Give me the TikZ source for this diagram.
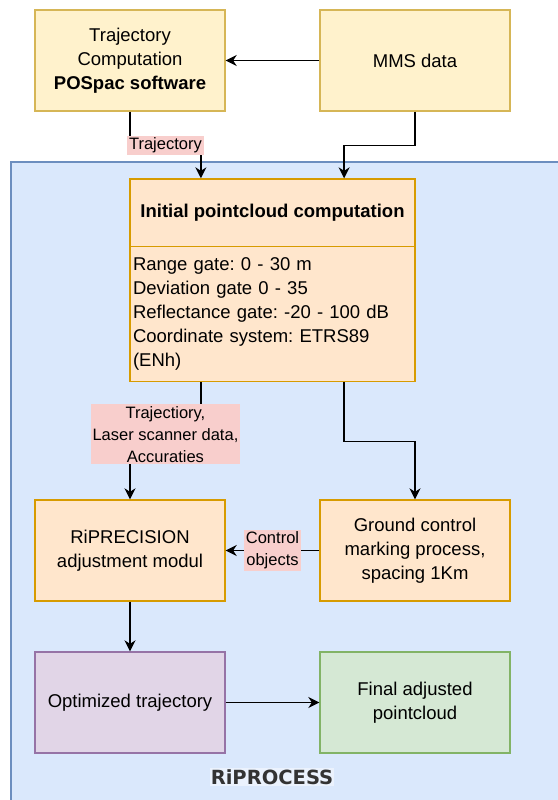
\documentclass[tikz,border=0pt]{standalone}
\usepackage{fontspec}
\setmainfont{Liberation Sans}
\newfontfamily\procfont{DejaVu Sans}
\usepackage{xcolor}
\usetikzlibrary{arrows, arrows.meta, positioning, calc}
\frenchspacing

\definecolor{lanefill}{HTML}{DAE8FC}
\definecolor{laneline}{HTML}{6C8EBF}
\definecolor{yellowfill}{HTML}{FFF2CC}
\definecolor{yellowline}{HTML}{D6B656}
\definecolor{orangefill}{HTML}{FFE6CC}
\definecolor{orangeline}{HTML}{D79B00}
\definecolor{purplefill}{HTML}{E1D5E7}
\definecolor{purpleline}{HTML}{9673A6}
\definecolor{greenfill}{HTML}{D5E8D4}
\definecolor{greenline}{HTML}{82B366}
\definecolor{tagfill}{HTML}{F8CECC}
\definecolor{procgray}{HTML}{333333}

\begin{document}
\begin{tikzpicture}[x=1pt,y=-1pt,node distance=285pt,on grid,line width=1.4pt,
    >={Stealth[length=11pt,width=11pt]}]
  \tikzstyle{every node}=[font=\fontsize{18.5}{24}\selectfont]
  \tikzstyle{box}=[draw,rectangle,minimum width=190pt,minimum height=101pt,align=center]
  \tikzstyle{source}=[box,fill=yellowfill,draw=yellowline]
  \tikzstyle{stage}=[box,fill=orangefill,draw=orangeline]
  \tikzstyle{tag}=[fill=tagfill,inner sep=2pt,align=center,font=\fontsize{16.5}{22}\selectfont]

  \useasboundingbox (0,0) rectangle (557,800);
  \draw[draw=laneline,fill=lanefill] (11,162) rectangle (580,820);

  \node[source](traj) at (130,60.5){Trajectory\\Computation\\\textbf{POSpac software}};
  \node[source](mms)[right of=traj]{MMS data};
  \node[stage,minimum width=285pt,minimum height=67.7pt](inithead) at (272.5,212.85)
    {\textbf{Initial pointcloud computation}};
  \node[stage,minimum height=135pt,text width=279pt,inner sep=3pt,align=left](initbody)
    [below=101.35pt of inithead]
    {Range gate: 0 - 30 m\\Deviation gate 0 - 35\\Reflectance gate: -20 - 100 dB\\
     Coordinate system: ETRS89\\(ENh)};
  \node[stage](riprec) at (130,550.5){RiPRECISION\\adjustment modul};
  \node[stage](ground)[right of=riprec]{Ground control\\marking process,\\spacing 1Km};
  \node[box,fill=purplefill,draw=purpleline](opt)[below=152pt of riprec]{Optimized trajectory};
  \node[box,fill=greenfill,draw=greenline](final)[right of=opt]{Final adjusted\\pointcloud};
  \node[fill=lanefill!55!white,inner sep=1pt,text=procgray,
    font=\procfont\bfseries\fontsize{19.5}{24}\selectfont](procname) at (272,777){RiPROCESS};

  % quarter points on the pointcloud box
  \coordinate (intop1) at ($(inithead.north west)!0.25!(inithead.north east)$);
  \coordinate (intop2) at ($(inithead.north west)!0.75!(inithead.north east)$);
  \coordinate (inbot1) at ($(initbody.south west)!0.25!(initbody.south east)$);
  \coordinate (inbot2) at ($(initbody.south west)!0.75!(initbody.south east)$);

  \draw[->] (mms) -- (traj);
  \draw[->] (traj.south) -- ++(0,34) -| node[tag,pos=0.25]{Trajectory} (intop1);
  \draw[->] (mms.south) -- ++(0,34) -| (intop2);
  \draw[->] (inbot1) -- ++(0,52) -| node[tag,pos=0.25]{Trajectiory,\\Laser scanner data,\\Accuraties} (riprec.north);
  \draw[->] (inbot2) -- ++(0,59) -| (ground.north);
  \draw[->] (ground) -- node[tag]{Control\\objects} (riprec);
  \draw[->] (riprec) -- (opt);
  \draw[->] (opt) -- (final);
\end{tikzpicture}
\end{document}
